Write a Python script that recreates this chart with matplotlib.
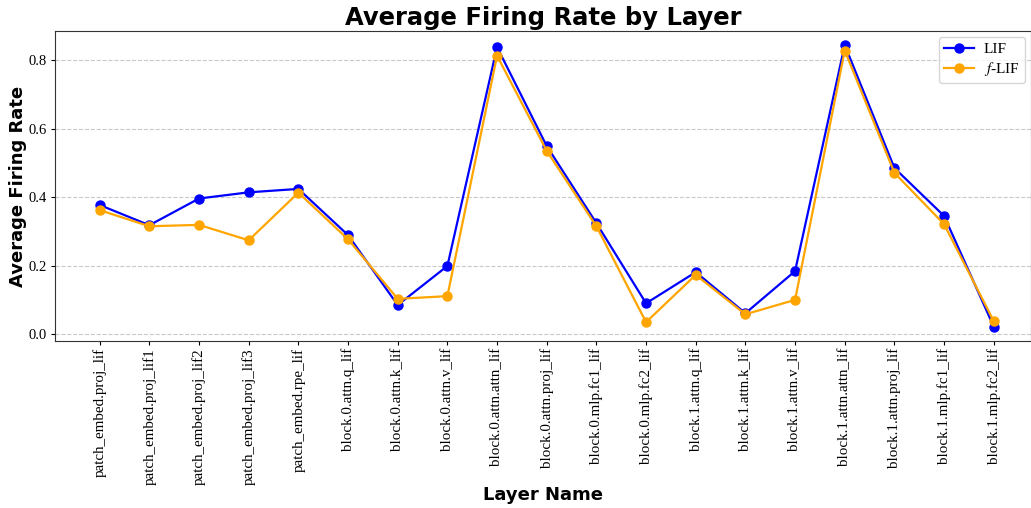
import matplotlib
matplotlib.use('Agg')
import matplotlib.pyplot as plt

layers = ['patch_embed.proj_lif', 'patch_embed.proj_lif1', 'patch_embed.proj_lif2',
          'patch_embed.proj_lif3', 'patch_embed.rpe_lif', 'block.0.attn.q_lif',
          'block.0.attn.k_lif', 'block.0.attn.v_lif', 'block.0.attn.attn_lif',
          'block.0.attn.proj_lif', 'block.0.mlp.fc1_lif', 'block.0.mlp.fc2_lif',
          'block.1.attn.q_lif', 'block.1.attn.k_lif', 'block.1.attn.v_lif',
          'block.1.attn.attn_lif', 'block.1.attn.proj_lif', 'block.1.mlp.fc1_lif',
          'block.1.mlp.fc2_lif']
lif = [0.377, 0.318, 0.396, 0.414, 0.424, 0.289, 0.085, 0.199, 0.838, 0.549,
       0.324, 0.090, 0.181, 0.061, 0.184, 0.844, 0.485, 0.345, 0.022]
flif = [0.362, 0.315, 0.319, 0.274, 0.413, 0.277, 0.103, 0.111, 0.813, 0.535,
        0.315, 0.035, 0.173, 0.058, 0.100, 0.828, 0.471, 0.321, 0.038]

plt.rcParams['mathtext.fontset'] = 'stix'

fig = plt.figure(figsize=(10.31, 5.08), dpi=100)
ax = fig.add_axes([55/1031, 167/508, 976/1031, 310/508])

x = list(range(len(layers)))
ax.plot(x, lif, marker='o', color='blue', linewidth=1.6, markersize=6.5, label='LIF')
ax.plot(x, flif, marker='o', color='orange', linewidth=1.6, markersize=6.5, label='$\\mathit{f}$-LIF')

ax.set_xlim(-0.9, 18.75)
ax.set_ylim(-0.02, 0.885)
ax.set_xticks(x)
ax.set_xticklabels(layers, rotation=90, fontfamily='Liberation Serif', fontsize=10.8)
ax.set_yticks([0.0, 0.2, 0.4, 0.6, 0.8])
ax.set_yticklabels(['0.0', '0.2', '0.4', '0.6', '0.8'], fontfamily='Liberation Serif', fontsize=10.5)
ax.tick_params(axis='x', length=3, pad=2)
ax.tick_params(axis='y', length=3, pad=3)
ax.grid(axis='y', linestyle='--', color='#bbbbbb', alpha=0.8)
ax.set_axisbelow(True)
for s in ax.spines.values():
    s.set_color('#333333')

ax.set_title('Average Firing Rate by Layer', fontsize=17.5, fontweight='bold', pad=4)
ax.set_xlabel('Layer Name', fontsize=13, fontweight='bold', labelpad=1)
ax.set_ylabel('Average Firing Rate', fontsize=13, fontweight='bold', labelpad=1)
ax.legend(loc='upper right', prop={'family': 'Liberation Serif', 'size': 11},
          labelspacing=0.25, handlelength=2.0, handletextpad=0.6,
          borderpad=0.35, borderaxespad=0.4)

fig.savefig('out.png', dpi=100)
